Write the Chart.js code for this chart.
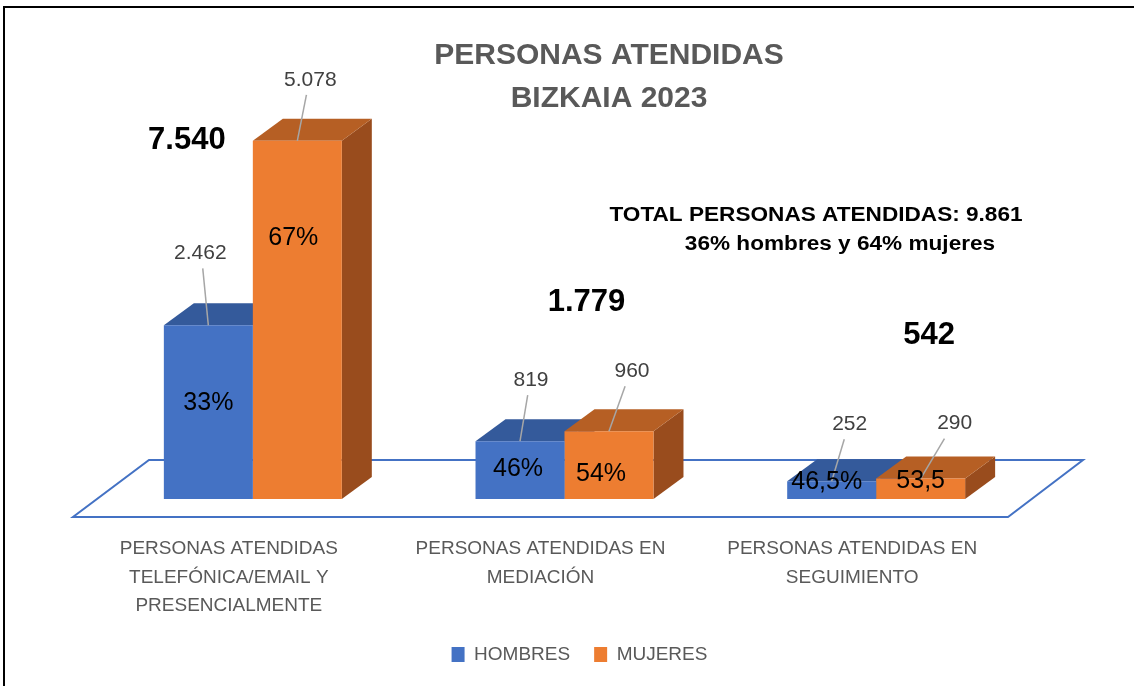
<!DOCTYPE html>
<html>
<head>
<meta charset="utf-8">
<script src="https://cdn.jsdelivr.net/npm/chart.js@4.4.1/dist/chart.umd.min.js"></script>
<style>
  html, body { margin: 0; padding: 0; background: #fff; }
  #wrap { position: relative; width: 1134px; height: 686px; overflow: hidden; }
  #frame { position: absolute; left: 3px; top: 6px; width: 1200px; height: 800px;
           border-top: 2px solid #000; border-left: 2px solid #000; }
  canvas { position: absolute; left: 0; top: 0; }
</style>
</head>
<body>
<div id="wrap">
  <div id="frame"></div>
  <canvas id="chart" width="1134" height="686"></canvas>
</div>
<script>
// ------------------- DATA -------------------
const categories = [
    ["PERSONAS ATENDIDAS", "TELEFÓNICA/EMAIL Y", "PRESENCIALMENTE"],
    ["PERSONAS ATENDIDAS EN", "MEDIACIÓN"],
    ["PERSONAS ATENDIDAS EN", "SEGUIMIENTO"]
];
const hombres = [2462, 819, 252];
const mujeres = [5078, 960, 290];
const pctHombres = ["33%", "46%", "46,5%"];
const pctMujeres = ["67%", "54%", "53,5"];
const titleLines = ["PERSONAS ATENDIDAS", "BIZKAIA 2023"];
const noteSubtitle = "36% hombres y 64% mujeres";

// ------------------- LOOK -------------------
const FONT = "'Liberation Sans', Arial, sans-serif";
const depth = { dx: 30, dy: 22 };
// label offsets, per dataset then per category (px from bar top centre)
const valueOffsets = [[[-8, -72], [11, -61], [18, -57]], [[13, -61], [23, -60], [34, -55]]];
// percent labels, px from bar centre / baseline
const pctOffsets = [[[0, -96], [-2, -30], [-5, -17]], [[-4, -261], [-8, -25], [0, -18]]];
// totals, px from category centre / chart top
const totalOffsets = [[-66, 36], [22, 198], [53, 231]];

function fmt(n) {
    return String(n).replace(/\B(?=(\d{3})+(?!\d))/g, ".");
}

function poly(ctx, pts) {
    ctx.beginPath();
    ctx.moveTo(pts[0][0], pts[0][1]);
    for (let i = 1; i < pts.length; i++) ctx.lineTo(pts[i][0], pts[i][1]);
    ctx.closePath();
    ctx.fill();
}

// stretched text, the note box looks wider than plain Arial
function wideText(ctx, text, x, y, sx) {
    ctx.save();
    ctx.translate(x, y);
    ctx.scale(sx, 1);
    ctx.fillText(text, 0, 0);
    ctx.restore();
}

// ------------------- 3D FACES + FLOOR -------------------
const bar3d = {
    id: "bar3d",
    beforeDatasetsDraw(chart) {
        const { ctx, chartArea: a } = chart;
        const base = chart.scales.y.getPixelForValue(0);

        ctx.save();
        ctx.strokeStyle = "#4472C4";
        ctx.lineWidth = 2;
        ctx.beginPath();
        ctx.moveTo(a.left - 24, base + 18);
        ctx.lineTo(a.right - 24, base + 18);
        ctx.lineTo(a.right + 51, base - 39);
        ctx.lineTo(a.left + 52, base - 39);
        ctx.closePath();
        ctx.stroke();

        chart.data.datasets.forEach((ds, i) => {
            chart.getDatasetMeta(i).data.forEach(bar => {
                const l = bar.x - bar.width / 2, r = bar.x + bar.width / 2;
                const t = bar.y, b = bar.base;
                ctx.fillStyle = ds.sideColor;
                poly(ctx, [[r, t], [r + depth.dx, t - depth.dy], [r + depth.dx, b - depth.dy], [r, b]]);
                ctx.fillStyle = ds.topColor;
                poly(ctx, [[l, t], [r, t], [r + depth.dx, t - depth.dy], [l + depth.dx, t - depth.dy]]);
            });
        });
        ctx.restore();
    },

    afterDatasetsDraw(chart) {
        const { ctx, chartArea: a } = chart;
        const pcts = [pctHombres, pctMujeres];
        ctx.save();
        ctx.textAlign = "center";
        ctx.textBaseline = "middle";

        chart.data.datasets.forEach((ds, i) => {
            chart.getDatasetMeta(i).data.forEach((bar, j) => {
                const [ox, oy] = valueOffsets[i][j];
                const lx = bar.x + ox, ly = bar.y + oy;
                // leader line
                ctx.strokeStyle = "#A6A6A6";
                ctx.lineWidth = 1.5;
                ctx.beginPath();
                ctx.moveTo(bar.x, bar.y);
                ctx.lineTo(lx + (bar.x - lx) * 0.3, ly + 15);
                ctx.stroke();
                // value
                ctx.fillStyle = "#404040";
                ctx.font = "21px " + FONT;
                ctx.fillText(fmt(ds.data[j]), lx, ly);
                // percent
                const [px, py] = pctOffsets[i][j];
                ctx.fillStyle = "#000";
                ctx.font = "25px " + FONT;
                ctx.fillText(pcts[i][j], bar.x + px, bar.base + py);
            });
        });

        // category totals
        const xs = chart.scales.x;
        ctx.fillStyle = "#000";
        ctx.font = "bold 31px " + FONT;
        categories.forEach((c, j) => {
            const tot = hombres[j] + mujeres[j];
            ctx.fillText(fmt(tot), xs.getPixelForValue(j) + totalOffsets[j][0], a.top + totalOffsets[j][1]);
        });

        // title
        ctx.fillStyle = "#595959";
        ctx.font = "bold 30px " + FONT;
        ctx.fillText(titleLines[0], 609, 56);
        ctx.fillText(titleLines[1], 609, 99);

        // total note
        const grand = hombres.concat(mujeres).reduce((s, v) => s + v, 0);
        ctx.fillStyle = "#000";
        ctx.font = "bold 20px " + FONT;
        wideText(ctx, "TOTAL PERSONAS ATENDIDAS: " + fmt(grand), 816, 215, 1.13);
        wideText(ctx, noteSubtitle, 840, 244, 1.13);
        ctx.restore();
    }
};

// ------------------- CHART -------------------
const hiddenAxis = {
    display: true,
    ticks: { display: false },
    grid: { display: false, drawTicks: false },
    border: { display: false }
};

new Chart(document.getElementById("chart"), {
    type: "bar",
    data: {
        labels: categories,
        datasets: [
            { label: "HOMBRES", data: hombres, backgroundColor: "#4472C4", topColor: "#345A9B", sideColor: "#2F528F" },
            { label: "MUJERES", data: mujeres, backgroundColor: "#ED7D31", topColor: "#B65F24", sideColor: "#994C1D" }
        ]
    },
    options: {
        responsive: false,
        animation: false,
        categoryPercentage: 0.571,
        barPercentage: 1.0,
        layout: { padding: { top: 104, left: 25, right: 0, bottom: 12 } },
        plugins: {
            tooltip: { enabled: false },
            legend: {
                position: "bottom",
                labels: {
                    color: "#595959",
                    font: { family: FONT, size: 19 },
                    boxWidth: 13,
                    boxHeight: 15,
                    padding: 24
                }
            }
        },
        scales: {
            x: {
                grid: { display: false, drawTicks: false },
                border: { display: false },
                ticks: {
                    color: "#595959",
                    font: { family: FONT, size: 19, lineHeight: 1.5 },
                    padding: 36,
                    labelOffset: -24,
                    maxRotation: 0,
                    autoSkip: false
                },
                afterFit: s => { s.height = 122; }
            },
            y: Object.assign({}, hiddenAxis, { min: 0, max: 5600, afterFit: s => { s.width = 72; } }),
            y2: Object.assign({}, hiddenAxis, { position: "right", afterFit: s => { s.width = 102; } })
        }
    },
    plugins: [bar3d]
});
</script>
</body>
</html>
